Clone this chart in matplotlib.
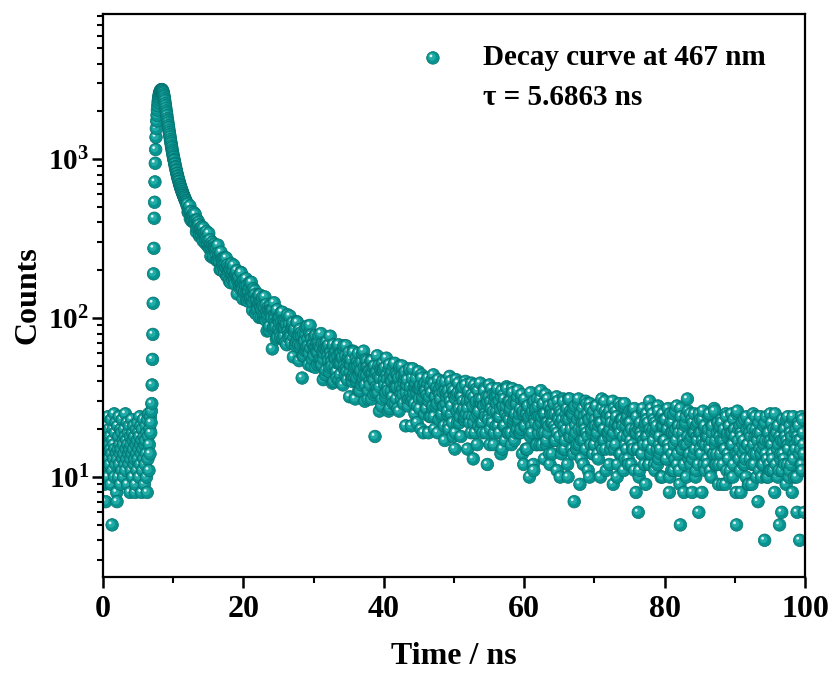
import numpy as np
import matplotlib
matplotlib.use("Agg")
import matplotlib.pyplot as plt
import matplotlib.transforms as mtransforms
from matplotlib.path import Path
from matplotlib.collections import PathCollection
from matplotlib.ticker import NullFormatter

plt.rcParams['font.family'] = ['Liberation Serif', 'DejaVu Serif']
plt.rcParams['font.weight'] = 'bold'
plt.rcParams['mathtext.fontset'] = 'custom'
plt.rcParams['mathtext.rm'] = 'Liberation Serif:bold'
plt.rcParams['mathtext.bf'] = 'Liberation Serif:bold'
plt.rcParams['mathtext.it'] = 'Liberation Serif:bold:italic'

# head of the decay, 0 - 12 ns, 0.05 ns channels
t_head = np.arange(240) * 0.05
counts_head = [
    11, 17, 14, 22, 9, 15, 19, 13, 7, 16, 21, 12, 18, 14, 10, 24, 15, 13, 20, 16,
    12, 18, 15, 9, 23, 14, 5, 17, 11, 20, 13, 16, 25, 10, 15, 19, 12, 22, 14, 8,
    7, 13, 21, 15, 10, 18, 24, 12, 16, 14, 9, 20, 15, 19, 11, 23, 13, 17, 16, 10,
    14, 20, 12, 18, 25, 11, 15, 17, 13, 22, 9, 16, 19, 14, 12, 21, 15, 8, 18, 13,
    16, 11, 23, 14, 19, 10, 17, 15, 21, 12, 18, 13, 8, 9, 16, 20, 14, 11, 17, 22,
    13, 19, 15, 10, 18, 24, 12, 16, 21, 14, 8, 17, 20, 11, 15, 23, 13, 18, 9, 16,
    12, 17, 21, 14, 10, 19, 8, 23, 13, 18, 25, 11, 16, 20, 14, 24, 19, 22, 26, 29,
    38, 55, 79, 124, 190, 275, 425, 536, 720, 943, 1150, 1375, 1560, 1740, 1890, 2040, 2170, 2290, 2390, 2470,
    2540, 2600, 2645, 2680, 2710, 2725, 2740, 2735, 2745, 2720, 2700, 2655, 2610, 2540, 2480, 2400, 2330, 2240, 2170, 2090,
    2010, 1950, 1880, 1800, 1745, 1690, 1625, 1580, 1520, 1470, 1425, 1380, 1330, 1290, 1255, 1210, 1180, 1140, 1110, 1080,
    1048, 1026, 993, 981, 944, 930, 898, 889, 857, 849, 818, 811, 784, 779, 753, 748, 726, 723, 697, 694,
    682, 664, 661, 645, 643, 626, 624, 609, 606, 594, 590, 577, 576, 561, 563, 548, 549, 535, 536, 522,
]

# tail, 12 - 100 ns, even channels (0.125 ns apart, one row = 2 ns)
t_tail_a = 12 + np.arange(704) * 0.125
counts_tail_a = [
    507, 464, 496, 508, 447, 409, 437, 448, 399, 451, 393, 370, 394, 402, 328, 369,
    344, 376, 307, 338, 343, 316, 351, 286, 312, 282, 311, 245, 280, 287, 246, 292,
    276, 248, 230, 288, 246, 227, 255, 201, 236, 224, 203, 241, 207, 184, 216, 198,
    171, 204, 213, 186, 173, 215, 175, 186, 194, 142, 179, 184, 154, 194, 162, 153,
    164, 143, 165, 177, 146, 128, 148, 158, 133, 168, 137, 125, 142, 149, 107, 133,
    118, 140, 101, 122, 128, 114, 136, 100, 117, 102, 122, 83, 106, 112, 89, 120,
    112, 64, 86, 125, 100, 89, 109, 76, 100, 94, 81, 108, 87, 75, 97, 87,
    70, 93, 101, 83, 75, 103, 77, 86, 91, 57, 83, 86, 67, 95, 74, 68,
    78, 65, 81, 42, 70, 58, 72, 80, 63, 89, 67, 60, 90, 78, 50, 69,
    60, 77, 49, 66, 70, 61, 78, 52, 65, 54, 69, 41, 60, 64, 47, 71,
    66, 54, 46, 77, 57, 50, 66, 40, 59, 56, 46, 67, 52, 41, 60, 52,
    39, 57, 64, 50, 44, 67, 46, 53, 58, 32, 51, 55, 40, 62, 45, 42,
    50, 40, 53, 60, 44, 35, 47, 53, 40, 62, 44, 38, 49, 54, 31, 47,
    40, 54, 31, 45, 49, 41, 18, 34, 46, 36, 50, 26, 42, 47, 31, 52,
    47, 38, 32, 56, 41, 35, 48, 27, 44, 40, 32, 50, 37, 29, 45, 37,
    27, 42, 48, 37, 31, 50, 33, 39, 44, 21, 38, 41, 28, 47, 34, 31,
    30, 48, 34, 29, 37, 42, 22, 36, 36, 27, 38, 44, 31, 19, 34, 39,
    35, 27, 39, 19, 32, 36, 24, 41, 28, 39, 20, 32, 36, 29, 41, 23,
    33, 31, 24, 40, 28, 21, 35, 29, 34, 26, 21, 43, 30, 25, 36, 18,
    35, 15, 31, 33, 22, 39, 27, 24, 18, 32, 37, 27, 23, 40, 25, 30,
    27, 35, 22, 31, 39, 24, 13, 32, 19, 29, 36, 25, 21, 30, 39, 22,
    31, 19, 28, 35, 24, 29, 12, 24, 32, 16, 30, 36, 22, 26, 19, 33,
    21, 29, 36, 24, 19, 27, 32, 15, 28, 33, 21, 25, 37, 19, 30, 23,
    26, 19, 29, 34, 23, 17, 25, 30, 20, 35, 23, 19, 27, 31, 14, 26,
    21, 31, 15, 25, 28, 23, 10, 18, 25, 19, 29, 11, 23, 26, 16, 31,
    28, 21, 16, 35, 24, 19, 29, 13, 25, 22, 17, 31, 21, 14, 26, 22,
    14, 25, 29, 21, 17, 32, 19, 24, 27, 10, 22, 25, 15, 30, 19, 17,
    20, 27, 10, 23, 31, 18, 25, 24, 14, 7, 28, 19, 15, 23, 31, 16,
    24, 13, 20, 27, 17, 22, 30, 19, 25, 11, 23, 29, 16, 20, 14, 26,
    16, 23, 28, 18, 14, 21, 25, 10, 22, 27, 17, 20, 30, 15, 24, 19,
    18, 12, 20, 24, 16, 30, 19, 15, 22, 26, 10, 21, 21, 14, 23, 28,
    23, 18, 28, 13, 21, 15, 24, 12, 19, 22, 12, 26, 16, 26, 11, 20,
    19, 15, 6, 10, 21, 19, 14, 26, 17, 12, 22, 18, 23, 16, 12, 30,
    14, 27, 15, 20, 23, 11, 19, 21, 12, 26, 16, 14, 10, 21, 25, 17,
    17, 23, 13, 20, 27, 15, 10, 22, 11, 19, 25, 16, 13, 20, 28, 14,
    21, 11, 5, 24, 15, 19, 8, 16, 22, 10, 31, 26, 14, 17, 12, 23,
    13, 19, 25, 15, 11, 18, 22, 6, 19, 23, 14, 17, 26, 12, 21, 16,
    18, 12, 20, 25, 15, 10, 17, 21, 14, 26, 16, 12, 19, 22, 12, 18,
    14, 23, 9, 17, 20, 15, 25, 11, 19, 13, 21, 11, 16, 19, 10, 23,
    20, 14, 5, 26, 17, 13, 21, 8, 18, 16, 12, 23, 15, 10, 20, 16,
    9, 19, 22, 15, 12, 25, 14, 18, 20, 10, 17, 19, 11, 24, 14, 12,
    15, 21, 4, 17, 24, 13, 10, 19, 11, 17, 22, 14, 11, 18, 25, 12,
    19, 10, 16, 5, 13, 17, 11, 14, 20, 12, 18, 23, 12, 16, 10, 21,
    12, 18, 23, 14, 10, 16, 20, 6, 17, 21, 4, 15, 24, 11, 19, 14,
]

# tail, odd channels in between
t_tail_b = 12.0625 + np.arange(704) * 0.125
counts_tail_b = [
    523, 470, 481, 422, 469, 440, 407, 461, 400, 413, 349, 415, 374, 386, 337, 364,
    335, 349, 369, 326, 297, 336, 321, 292, 342, 273, 290, 273, 300, 240, 279, 281,
    258, 276, 234, 256, 235, 202, 260, 234, 215, 237, 193, 220, 239, 204, 184, 210,
    202, 167, 220, 180, 200, 181, 164, 191, 199, 171, 178, 159, 160, 193, 167, 132,
    174, 148, 159, 130, 161, 148, 133, 168, 136, 147, 112, 153, 132, 141, 114, 130,
    114, 124, 140, 116, 101, 127, 119, 104, 136, 97, 109, 101, 118, 84, 110, 113,
    101, 114, 89, 105, 93, 74, 113, 97, 86, 102, 76, 95, 109, 88, 77, 96,
    91, 68, 105, 78, 92, 81, 70, 88, 94, 76, 82, 69, 71, 94, 78, 54,
    85, 68, 77, 58, 80, 72, 62, 87, 66, 74, 51, 80, 65, 74, 55, 68,
    58, 66, 78, 61, 51, 70, 66, 55, 80, 51, 61, 55, 69, 44, 63, 66,
    58, 68, 49, 61, 53, 39, 68, 57, 50, 62, 42, 58, 68, 52, 44, 60,
    56, 38, 67, 47, 58, 49, 41, 56, 61, 46, 51, 42, 43, 61, 49, 31,
    56, 42, 50, 35, 52, 46, 38, 60, 42, 49, 30, 55, 44, 49, 35, 46,
    38, 45, 54, 41, 33, 50, 45, 37, 58, 34, 43, 37, 49, 28, 46, 48,
    41, 49, 34, 44, 37, 26, 51, 41, 35, 46, 29, 42, 52, 37, 31, 44,
    41, 26, 50, 33, 43, 36, 29, 42, 46, 34, 38, 30, 31, 48, 37, 21,
    42, 31, 37, 25, 39, 34, 28, 46, 31, 36, 20, 42, 32, 38, 25, 35,
    27, 33, 42, 30, 24, 37, 34, 27, 44, 24, 32, 28, 37, 19, 34, 36,
    30, 38, 25, 34, 28, 17, 40, 32, 25, 35, 20, 32, 40, 28, 22, 34,
    32, 19, 41, 26, 34, 28, 22, 33, 36, 26, 30, 23, 24, 38, 29, 15,
    34, 24, 30, 19, 33, 28, 22, 38, 24, 30, 16, 35, 26, 31, 20, 29,
    22, 28, 36, 25, 19, 32, 30, 23, 38, 20, 27, 23, 33, 16, 30, 32,
    26, 33, 21, 30, 24, 14, 35, 28, 21, 31, 17, 28, 36, 24, 19, 30,
    27, 16, 36, 22, 30, 24, 19, 29, 32, 22, 25, 19, 20, 33, 25, 12,
    30, 21, 26, 15, 28, 24, 19, 34, 21, 26, 12, 30, 22, 27, 16, 24,
    19, 24, 31, 22, 16, 28, 25, 19, 33, 16, 22, 19, 28, 12, 25, 27,
    22, 29, 17, 25, 20, 11, 30, 23, 18, 26, 14, 23, 31, 21, 15, 25,
    23, 12, 31, 18, 26, 20, 15, 25, 27, 18, 21, 15, 16, 29, 20, 9,
    25, 17, 22, 12, 24, 20, 15, 29, 18, 23, 10, 27, 19, 24, 14, 21,
    16, 21, 28, 19, 13, 24, 22, 16, 31, 15, 20, 17, 26, 11, 23, 25,
    19, 26, 15, 22, 18, 9, 27, 21, 16, 24, 12, 21, 29, 19, 14, 23,
    21, 11, 29, 16, 23, 18, 13, 22, 26, 17, 20, 15, 15, 27, 19, 8,
    24, 15, 20, 11, 22, 18, 14, 27, 16, 21, 9, 25, 18, 22, 12, 20,
    14, 19, 25, 17, 12, 22, 20, 15, 28, 13, 18, 15, 24, 10, 21, 23,
    17, 23, 13, 20, 16, 8, 25, 19, 14, 22, 11, 19, 26, 17, 12, 21,
    19, 9, 27, 15, 21, 17, 12, 21, 24, 16, 18, 13, 14, 25, 18, 8,
    22, 14, 19, 10, 21, 17, 12, 25, 15, 19, 8, 23, 16, 20, 11, 18,
    13, 18, 24, 16, 11, 21, 19, 14, 27, 12, 17, 14, 22, 9, 20, 21,
    17, 22, 12, 19, 15, 9, 24, 18, 14, 21, 10, 19, 25, 16, 12, 20,
    18, 8, 25, 14, 20, 15, 11, 19, 22, 14, 17, 12, 13, 24, 16, 9,
    21, 13, 18, 9, 20, 16, 12, 24, 14, 18, 7, 22, 15, 19, 10, 17,
    12, 16, 22, 14, 10, 19, 17, 12, 25, 11, 16, 13, 20, 8, 18, 20,
    15, 21, 11, 18, 14, 6, 23, 17, 13, 20, 9, 17, 24, 15, 11, 19,
    17, 8, 24, 13, 19, 15, 10, 18, 22, 14, 17, 12, 12, 23, 16, 6,
]

legend_label = "Decay curve at 467 nm"
tau_label = "\u03c4 = 5.6863 ns"
xticks = [0, 20, 40, 60, 80, 100]
xticks_minor = [10, 30, 50, 70, 90]
yticks = [10, 100, 1000]
ytick_labels = [r"$\mathbf{10^{1}}$", r"$\mathbf{10^{2}}$", r"$\mathbf{10^{3}}$"]

teal_body = '#07938f'
teal_mid = '#22aca8'
teal_edge = '#05716e'
shine = '#e2f5f4'


def spheres(ax, x, y, size, transform):
    # three layered circles per point (body, lighter core, highlight) drawn point by point
    c = Path.unit_circle()
    paths = [c.transformed(mtransforms.Affine2D().scale(0.5)),
             c.transformed(mtransforms.Affine2D().scale(0.3).translate(-0.08, 0.08)),
             c.transformed(mtransforms.Affine2D().scale(0.11).translate(-0.16, 0.16))]
    xy = np.repeat(np.column_stack([x, y]), 3, axis=0)
    pc = PathCollection(paths, sizes=[size], offsets=xy, offset_transform=transform,
                        facecolors=[teal_body, teal_mid, shine],
                        edgecolors=[teal_edge, 'none', 'none'],
                        linewidths=[0.5, 0, 0])
    pc.set_transform(mtransforms.IdentityTransform())
    ax.add_collection(pc, autolim=False)
    return pc


fig = plt.figure(figsize=(8.29, 6.75), dpi=100)
ax = fig.add_axes([103/829, 1-577/675, 702/829, 563/675])
ax.set_yscale('log')
ax.set_xlim(0, 100)
ax.set_ylim(2.35, 8200)

# interleave the two tail halves so channels are drawn in time order
t_tail = np.column_stack([t_tail_a, t_tail_b]).ravel()
c_tail = np.column_stack([counts_tail_a, counts_tail_b]).ravel()
t_all = np.concatenate([t_head, t_tail])
c_all = np.concatenate([counts_head, c_tail])
spheres(ax, t_all, c_all, 82, ax.transData)

# legend
spheres(ax, [0.470], [0.922], 82, ax.transAxes)
ax.text(0.541, 0.922, legend_label, transform=ax.transAxes, fontsize=21,
        fontweight='bold', ha='left', va='center')
ax.text(0.541, 0.851, tau_label, transform=ax.transAxes, fontsize=21,
        fontweight='bold', ha='left', va='center')

ax.set_xticks(xticks)
ax.set_xticklabels([str(v) for v in xticks])
ax.set_xticks(xticks_minor, minor=True)
ax.set_yticks(yticks)
ax.set_yticklabels(ytick_labels)
ax.yaxis.set_minor_formatter(NullFormatter())
ax.tick_params(which='major', direction='out', length=8, width=1.8)
ax.tick_params(axis='x', which='major', pad=5, labelsize=23)
ax.tick_params(axis='y', which='major', pad=2, labelsize=21)
ax.tick_params(which='minor', direction='out', length=4.5, width=1.5)
for s in ax.spines.values():
    s.set_linewidth(1.6)

fig.text(28/829, 1-295/675, "Counts", rotation=90, ha='center', va='center',
         fontsize=23, fontweight='bold')
fig.text(454/829, 1-656/675, "Time / ns", ha='center', va='center',
         fontsize=23, fontweight='bold')

fig.savefig("out.png", dpi=100)
